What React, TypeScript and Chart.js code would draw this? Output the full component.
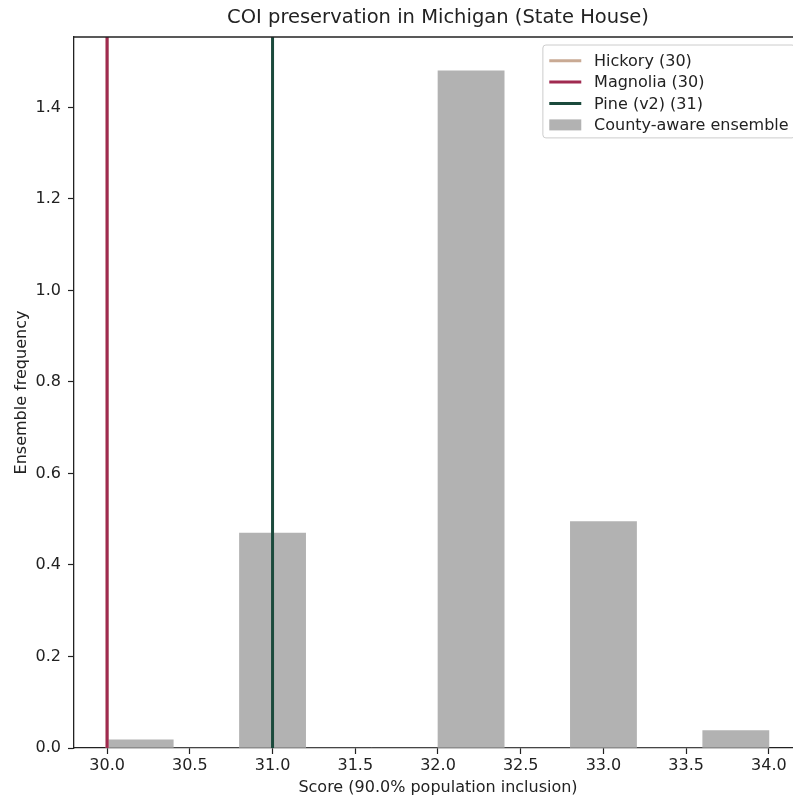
import React, { useEffect, useRef } from 'react';
import { Chart, registerables } from 'chart.js';

Chart.register(...registerables);

// ---- data ----
const binCenters = [30.2, 30.6, 31.0, 31.4, 31.8, 32.2, 32.6, 33.0, 33.4, 33.8];
const ensembleDensity = [0.018, 0, 0.47, 0, 0, 1.48, 0, 0.495, 0, 0.038];
const ensembleLabel = 'County-aware ensemble';

const planNames = ['Hickory (30)', 'Magnolia (30)', 'Pine (v2) (31)'];
const planScores = [30, 30, 31];
const planColors = ['#c9aa94', '#a02a50', '#1b4a3c'];
const planOrder = [3, 1, 2];

const xTicks = [30.0, 30.5, 31.0, 31.5, 32.0, 32.5, 33.0, 33.5, 34.0];
const yTicks = [0.0, 0.2, 0.4, 0.6, 0.8, 1.0, 1.2, 1.4];

const titleText = 'COI preservation in Michigan (State House)';
const xLabel = 'Score (90.0% population inclusion)';
const yLabel = 'Ensemble frequency';

const X_MIN = 29.8;
const X_MAX = 34.2;
const Y_MAX = 1.554;

const FONT = "'DejaVu Sans', sans-serif";
const TXT = '#222222';
const BAR_COLOR = '#b2b2b2';

const framePlugin = {
  id: 'frameAndLegend',
  afterDraw(chart: any) {
    const { ctx, chartArea: ca } = chart;
    ctx.save();
    // top spine
    ctx.strokeStyle = TXT;
    ctx.lineWidth = 1.3;
    ctx.beginPath();
    ctx.moveTo(ca.left, ca.top);
    ctx.lineTo(ca.right + 20, ca.top);
    ctx.stroke();

    // legend
    ctx.font = `16px ${FONT}`;
    const items = chart.data.datasets.map((d: any) => ({
      label: d.label,
      type: d.type,
      color: d.type === 'line' ? d.borderColor : d.backgroundColor,
    }));
    const maxW = Math.max(...items.map((it: any) => ctx.measureText(it.label).width));
    const pad = 6.4;
    const handleLen = 32;
    const gap = 12.8;
    const rowH = 21.4;
    const width = pad + handleLen + gap + maxW + pad;
    const right = ca.right - 7;
    const left = right - width;
    const top = ca.top + 8;
    const height = 15.7 + rowH * (items.length - 1) + 13;
    ctx.fillStyle = 'rgba(255,255,255,0.85)';
    ctx.strokeStyle = '#cccccc';
    ctx.lineWidth = 1;
    ctx.beginPath();
    (ctx as any).roundRect(left, top, width, height, 3);
    ctx.fill();
    ctx.stroke();
    items.forEach((it: any, i: number) => {
      const cy = top + 15.7 + rowH * i;
      const hx = left + pad;
      if (it.type === 'line') {
        ctx.strokeStyle = it.color;
        ctx.lineWidth = 3;
        ctx.beginPath();
        ctx.moveTo(hx, cy);
        ctx.lineTo(hx + handleLen, cy);
        ctx.stroke();
      } else {
        ctx.fillStyle = it.color;
        ctx.fillRect(hx, cy - 5.5, handleLen, 11);
      }
      ctx.fillStyle = TXT;
      ctx.textAlign = 'left';
      ctx.textBaseline = 'middle';
      ctx.fillText(it.label, hx + handleLen + gap, cy + 1);
    });
    ctx.restore();
  },
};

export default function App() {
  const ref = useRef<HTMLCanvasElement | null>(null);

  useEffect(() => {
    if (!ref.current) return;
    Chart.defaults.font.family = FONT;
    const lineSets = planNames.map((name, i) => ({
      type: 'line' as const,
      label: name,
      data: [
        { x: planScores[i], y: 0 },
        { x: planScores[i], y: Y_MAX },
      ],
      borderColor: planColors[i],
      backgroundColor: planColors[i],
      borderWidth: 3,
      pointRadius: 0,
      fill: false,
      order: planOrder[i],
    }));
    const chart = new Chart(ref.current, {
      type: 'bar',
      data: {
        datasets: [
          ...lineSets,
          {
            type: 'bar' as const,
            label: ensembleLabel,
            data: binCenters.map((x, i) => ({ x, y: ensembleDensity[i] })),
            backgroundColor: BAR_COLOR,
            borderWidth: 0,
            barPercentage: 1,
            categoryPercentage: 1,
            order: 10,
          },
        ] as any,
      },
      options: {
        animation: false,
        responsive: true,
        maintainAspectRatio: false,
        layout: { padding: { top: 0, left: 0, right: 98, bottom: 0 } },
        plugins: {
          legend: { display: false },
          tooltip: { enabled: false },
          title: {
            display: true,
            text: titleText,
            fullSize: false,
            color: TXT,
            font: { size: 19.5, weight: 'normal', family: FONT },
            padding: { top: 6, bottom: 7.6 },
          },
        },
        scales: {
          x: {
            type: 'linear',
            min: X_MIN,
            max: X_MAX,
            offset: false,
            afterBuildTicks: (s: any) => {
              s.ticks = xTicks.map((v) => ({ value: v }));
            },
            afterFit: (s: any) => {
              s.height = 49;
            },
            ticks: {
              autoSkip: false,
              maxRotation: 0,
              color: TXT,
              padding: 2,
              font: { size: 16, family: FONT },
              callback: (v: any) => Number(v).toFixed(1),
            },
            grid: {
              offset: false,
              display: true,
              drawOnChartArea: false,
              drawTicks: true,
              tickLength: 6,
              tickColor: TXT,
              tickWidth: 1.2,
            },
            border: { display: true, color: TXT, width: 1.3 },
            title: {
              display: true,
              text: xLabel,
              color: TXT,
              font: { size: 16, family: FONT, lineHeight: 1.2 },
              padding: { top: 0, bottom: 0 },
            },
          },
          y: {
            type: 'linear',
            min: 0,
            max: Y_MAX,
            afterBuildTicks: (s: any) => {
              s.ticks = yTicks.map((v) => ({ value: v }));
            },
            afterFit: (s: any) => {
              s.width = 74;
            },
            ticks: {
              color: TXT,
              padding: 7,
              font: { size: 16, family: FONT },
              callback: (v: any) => Number(v).toFixed(1),
            },
            grid: {
              display: true,
              drawOnChartArea: false,
              drawTicks: true,
              tickLength: 6,
              tickColor: TXT,
              tickWidth: 1.2,
            },
            border: { display: true, color: TXT, width: 1.3 },
            title: {
              display: true,
              text: yLabel,
              color: TXT,
              font: { size: 16, family: FONT, lineHeight: 1.2 },
              padding: { top: 12, bottom: 0 },
            },
          },
        },
      } as any,
      plugins: [framePlugin],
    });
    return () => chart.destroy();
  }, []);

  return (
    <div
      style={{
        position: 'absolute',
        left: 0,
        top: 0,
        width: 793,
        height: 797,
        overflow: 'hidden',
        background: '#ffffff',
      }}
    >
      <div style={{ position: 'relative', width: 900, height: 797 }}>
        <canvas ref={ref} />
      </div>
    </div>
  );
}
